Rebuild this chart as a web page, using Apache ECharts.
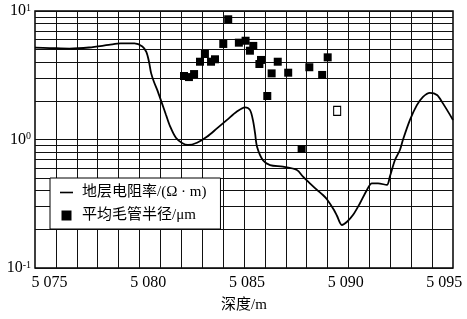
<!DOCTYPE html>
<html>
<head>
<meta charset="utf-8">
<script src="https://cdn.jsdelivr.net/npm/echarts@6/dist/echarts.min.js"></script>
<style>html,body{margin:0;padding:0;background:#fff}#c{width:467px;height:319px}</style>
</head>
<body>
<div id="c"></div>
<script>
// Resistivity curve (depth m, Ω·m)
const lineDepth = [5074.26,5075.0,5076.0,5077.0,5078.0,5078.6,5079.3,5079.7,5079.9,5080.04,5080.14,5080.29,5080.49,5080.69,5080.90,5081.10,5081.40,5081.71,5082.01,5082.47,5082.97,5083.48,5083.99,5084.49,5084.90,5085.15,5085.30,5085.41,5085.51,5085.81,5086.17,5086.82,5087.53,5087.84,5088.19,5088.55,5088.85,5089.05,5089.41,5089.56,5089.81,5090.07,5090.37,5090.72,5091.08,5091.33,5091.64,5092.09,5092.24,5092.50,5092.75,5092.90,5093.26,5093.61,5093.92,5094.27,5094.63,5094.93,5095.44];
const resistivity = [5.18,5.15,5.1,5.2,5.45,5.6,5.6,5.3,4.8,4.0,3.3,2.8,2.35,1.92,1.55,1.27,1.03,0.94,0.906,0.944,1.05,1.22,1.42,1.65,1.78,1.70,1.42,1.12,0.88,0.69,0.633,0.614,0.579,0.514,0.456,0.405,0.37,0.343,0.283,0.255,0.216,0.229,0.258,0.318,0.405,0.456,0.456,0.443,0.514,0.692,0.828,0.99,1.42,1.85,2.15,2.31,2.22,1.91,1.42];
// Mean capillary radius (depth m, μm)
const capDepth = [5081.81,5082.06,5082.32,5082.62,5082.87,5083.18,5083.38,5083.80,5084.05,5084.59,5084.93,5085.15,5085.32,5085.63,5085.71,5086.03,5086.25,5086.56,5087.09,5087.77,5088.16,5088.81,5089.09];
const capRadius = [3.12,3.06,3.23,4.03,4.63,4.03,4.21,5.54,8.62,5.67,5.87,4.91,5.35,3.87,4.16,2.18,3.27,4.03,3.31,0.843,3.65,3.18,4.36];
const openDepth = [5089.57];
const openRadius = [1.67];
// Axis ticks and paper grid
const xLabels = [5075,5080,5085,5090,5095];
const yLabels = [0.1,1,10];
const yGrid = [0.2,0.3,0.4,0.5,0.6,0.7,0.8,0.9,1,2,3,4,5,6,7,8,9];
const xGrid = [1,2,3,4,5,6,7,8,9,10,11,12,13,14,15,16,17,18,19];

const FONT = '"Liberation Serif","Noto Sans CJK SC",serif';
const zip = (a,b) => a.map((v,i)=>[v,b[i]]);
const gridLine = {silent:true,symbol:['none','none'],label:{show:false},
  lineStyle:{color:'#111',width:1,type:'solid',opacity:1},emphasis:{disabled:true},animation:false};
const chart = echarts.init(document.getElementById('c'));
chart.setOption({
  animation:false,
  backgroundColor:'#fff',
  grid:{left:35,right:14,top:11,bottom:51,show:true,borderColor:'#000',borderWidth:1.5,backgroundColor:'transparent'},
  xAxis:[{
    type:'value',min:5074.26,max:5095.44,
    name:'深度/m',nameLocation:'middle',nameGap:30,
    nameTextStyle:{fontFamily:FONT,fontSize:15,color:'#000'},
    axisLine:{show:false},axisTick:{show:false},
    splitLine:{show:false},
    axisLabel:{customValues:xLabels,margin:7,fontFamily:FONT,fontSize:16,color:'#000',
      formatter:v=>String(v).replace(/^(\d)(\d{3})$/,'$1 $2')}
  },{
    type:'value',min:0,max:20,position:'top',
    axisLine:{show:false},axisTick:{show:false},axisLabel:{show:false},splitLine:{show:false}
  }],
  yAxis:{
    type:'log',logBase:10,min:0.1,max:10,
    axisLine:{show:false},axisTick:{show:false},
    splitLine:{show:true,lineStyle:{color:'#111',width:1}},
    axisLabel:{customValues:yLabels,margin:4,color:'#000',
      formatter:v=>'{b|10}{s|'+Math.round(Math.log10(v))+'}',
      rich:{b:{fontFamily:FONT,fontSize:16,lineHeight:16,color:'#000'},
            s:{fontFamily:FONT,fontSize:10,lineHeight:10,verticalAlign:'top',color:'#000'}}}
  },
  legend:{
    left:50,top:178,orient:'vertical',z:50,zlevel:0,
    backgroundColor:'#fff',borderColor:'#000',borderWidth:1,
    padding:[7,14,6,10],itemGap:8,itemWidth:13,itemHeight:10,
    textStyle:{fontFamily:FONT,fontSize:15,lineHeight:15,color:'#000',padding:[0,0,0,4]},
    data:[{name:'地层电阻率/(Ω · m)',icon:'path://M0,0L13,0L13,1.6L0,1.6Z'},
          {name:'平均毛管半径/μm',icon:'path://M0,0L10,0L10,10L0,10Z'}]
  },
  series:[{
    name:'paperV',type:'scatter',xAxisIndex:1,yAxisIndex:0,symbolSize:0,silent:true,
    data:[[0,1]],z:1,
    markLine:Object.assign({data:xGrid.map(v=>({xAxis:v})),z:1},gridLine)
  },{
    name:'paperH',type:'scatter',xAxisIndex:0,yAxisIndex:0,symbolSize:0,silent:true,
    data:[[5080,1]],z:1,
    markLine:Object.assign({data:yGrid.map(v=>({yAxis:v})),z:1},gridLine)
  },{
    name:'地层电阻率/(Ω · m)',type:'line',xAxisIndex:0,smooth:0.3,symbol:'none',
    lineStyle:{color:'#000',width:1.8},itemStyle:{color:'#000'},
    data:zip(lineDepth,resistivity),z:3
  },{
    name:'平均毛管半径/μm',type:'scatter',xAxisIndex:0,symbol:'rect',symbolSize:8,
    itemStyle:{color:'#000',opacity:1},data:zip(capDepth,capRadius),z:4
  },{
    name:'open',type:'scatter',xAxisIndex:0,symbol:'rect',symbolSize:[7,9],
    itemStyle:{color:'#fff',borderColor:'#000',borderWidth:1.2,opacity:1},
    data:zip(openDepth,openRadius),z:4
  }]
});
</script>
</body>
</html>
